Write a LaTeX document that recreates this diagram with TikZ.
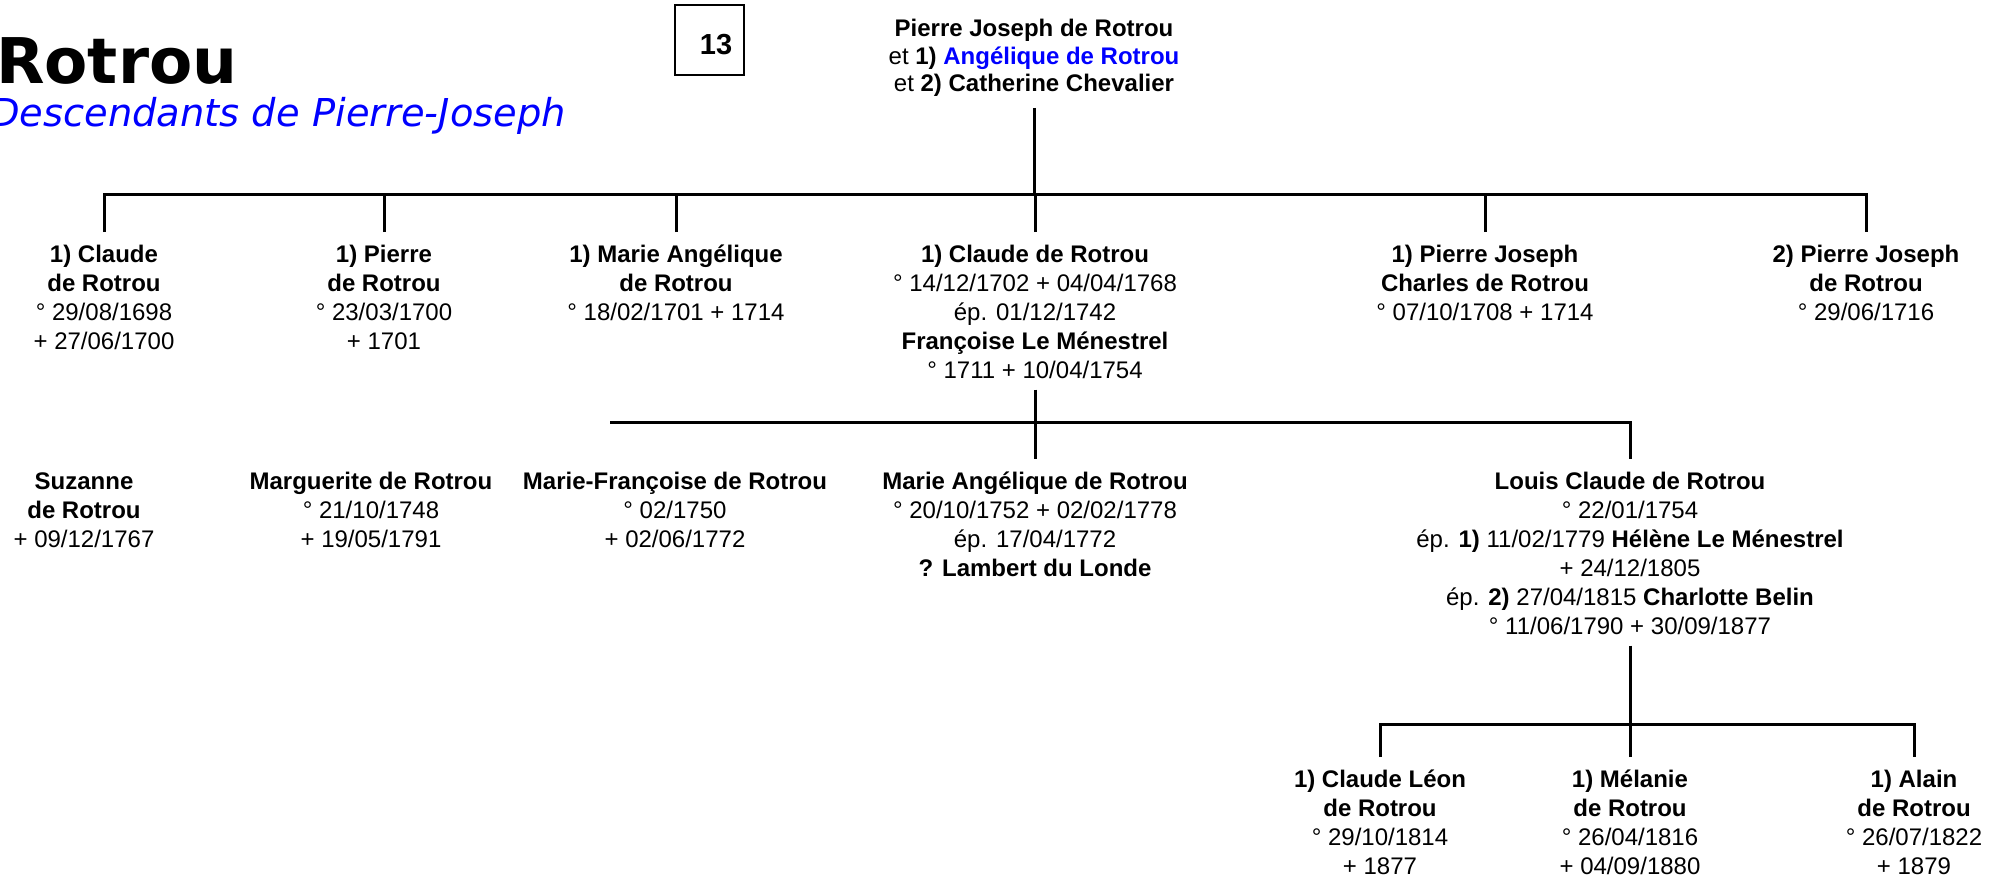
\documentclass[tikz,border=0pt]{standalone}
\usepackage{fontspec}
\setmainfont{Liberation Sans}
\newfontfamily\subfont{DejaVu Sans}
\definecolor{pblue}{RGB}{0,0,255}
\newcommand\fst{\rule{0pt}{19pt}}
\tikzset{
  person/.style={align=center, inner xsep=0pt, inner ysep=11pt, anchor=north,
    font=\fontsize{24}{29}\selectfont},
  link/.style={line width=3pt},
}
\begin{document}
\begin{tikzpicture}[x=1pt,y=-1pt]
\useasboundingbox (0,0) rectangle (1992,878);
% title
\node[anchor=base west, inner sep=0pt, font=\subfont\fontsize{63}{64}\selectfont\bfseries] (title) at (-4,83) {Rotrou};
\node[anchor=base west, inner sep=0pt, text=pblue, font=\subfont\fontsize{38.4}{38}\selectfont\itshape] (sub) at (-10,126) {Descendants de Pierre-Joseph};
\node[draw, line width=2pt, minimum width=69pt, minimum height=70pt, inner sep=0pt] (num) at (709.5,40) {};
\node[inner sep=0pt, font=\fontsize{29}{30}\selectfont\bfseries] (numtext) at (716,44.5) {13};
% root
\node[person, font=\fontsize{24}{27.5}\selectfont] (root) at (1034,6.6) {\fst\textbf{Pierre Joseph de Rotrou}\\et \textbf{1) \textcolor{pblue}{Angélique de Rotrou}}\\et \textbf{2) Catherine Chevalier}};
% row 1
\node[person] (c1) at (104,232) {\fst\textbf{1) Claude}\\\textbf{de Rotrou}\\° 29/08/1698\\+ 27/06/1700};
\node[person] (c2) at (384,232) {\fst\textbf{1) Pierre}\\\textbf{de Rotrou}\\° 23/03/1700\\+ 1701};
\node[person] (c3) at (676,232) {\fst\textbf{1) Marie Angélique}\\\textbf{de Rotrou}\\° 18/02/1701 + 1714};
\node[person] (c4) at (1035,232) {\fst\textbf{1) Claude de Rotrou}\\° 14/12/1702 + 04/04/1768\\ép. 01/12/1742\\\textbf{Françoise Le Ménestrel}\\° 1711 + 10/04/1754};
\node[person] (c5) at (1485,232) {\fst\textbf{1) Pierre Joseph}\\\textbf{Charles de Rotrou}\\° 07/10/1708 + 1714};
\node[person] (c6) at (1866,232) {\fst\textbf{2) Pierre Joseph}\\\textbf{de Rotrou}\\° 29/06/1716};
% row 2
\node[person] (m1) at (84,459) {\fst\textbf{Suzanne}\\\textbf{de Rotrou}\\+ 09/12/1767};
\node[person] (m2) at (371,459) {\fst\textbf{Marguerite de Rotrou}\\° 21/10/1748\\+ 19/05/1791};
\node[person] (m3) at (675,459) {\fst\textbf{Marie-Françoise de Rotrou}\\° 02/1750\\+ 02/06/1772};
\node[person] (m4) at (1035,459) {\fst\textbf{Marie Angélique de Rotrou}\\° 20/10/1752 + 02/02/1778\\ép. 17/04/1772\\\textbf{? Lambert du Londe}};
\node[person] (m5) at (1630,459) {\fst\textbf{Louis Claude de Rotrou}\\° 22/01/1754\\ép. \textbf{1)} 11/02/1779 \textbf{Hélène Le Ménestrel}\\+ 24/12/1805\\ép. \textbf{2)} 27/04/1815 \textbf{Charlotte Belin}\\° 11/06/1790 + 30/09/1877};
% row 3
\node[person] (g1) at (1380,757) {\fst\textbf{1) Claude Léon}\\\textbf{de Rotrou}\\° 29/10/1814\\+ 1877};
\node[person] (g2) at (1630,757) {\fst\textbf{1) Mélanie}\\\textbf{de Rotrou}\\° 26/04/1816\\+ 04/09/1880};
\node[person] (g3) at (1914,757) {\fst\textbf{1) Alain}\\\textbf{de Rotrou}\\° 26/07/1822\\+ 1879};
% buses
\coordinate (b1) at (0,194);
\coordinate (b2) at (610,422);
\coordinate (b3) at (0,724);
% connectors
\draw[link] (root.south) -- (root.south |- b1);
\draw[link] (c1.north) -- (c1.north |- b1) -- (c6.north |- b1) -- (c6.north);
\foreach \n in {c2,c3,c4,c5} \draw[link] (\n.north) -- (\n.north |- b1);
\draw[link] (b2) -- (m5.north |- b2) -- (m5.north);
\draw[link] (c4.south) -- (m4.north);
\draw[link] (m5.south) -- (m5.south |- b3);
\draw[link] (g1.north) -- (g1.north |- b3) -- (g3.north |- b3) -- (g3.north);
\draw[link] (g2.north) -- (g2.north |- b3);
\end{tikzpicture}
\end{document}
